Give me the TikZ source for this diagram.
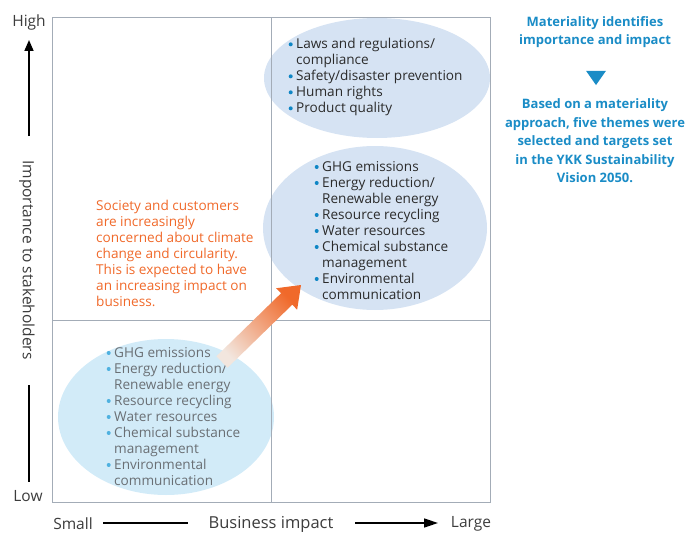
\documentclass[tikz,border=0pt]{standalone}
\usepackage{fontspec}
\setmainfont{Open Sans}
\usetikzlibrary{calc,shapes.geometric,arrows.meta}
\definecolor{frame}{HTML}{A3ACB7}
\definecolor{ellA}{HTML}{D6E3F3}
\definecolor{ellB}{HTML}{D2EBF8}
\definecolor{blu}{HTML}{1A8CC6}
\definecolor{bul}{HTML}{0F86C5}
\definecolor{bulL}{HTML}{4FB1E0}
\definecolor{org}{HTML}{F0692A}
\definecolor{orgL}{HTML}{F2E6DE}
\definecolor{txt}{HTML}{2B2B2B}
\definecolor{gtx}{HTML}{6A6F74}
\definecolor{axt}{HTML}{3C3C3C}
\newcommand\bl[1]{\makebox[8pt][l]{\hspace*{0.5pt}\tikz[baseline=-4.2pt]\fill[#1] (0,0) circle (2pt);}}
\newcommand\ind{\hspace*{8pt}}
\tikzset{
  ell/.style={ellipse, inner sep=0pt},
  list/.style={anchor=north west, inner sep=0pt, align=left, font=\fontsize{13.6}{16}\selectfont},
  axlabel/.style={text=axt, font=\fontsize{15.5}{16}\selectfont, inner sep=0pt},
  side/.style={text=blu, font=\bfseries\fontsize{13}{18.5}\selectfont, align=center, inner sep=0pt}
}
\begin{document}
\begin{tikzpicture}[x=1pt,y=-1pt]
\useasboundingbox (0,0) rectangle (687,532);
% ellipses
\node[ell, fill=ellA, minimum width=226pt, minimum height=120pt] (eTop) at (377,78) {};
\node[ell, fill=ellA, minimum width=224pt, minimum height=164pt] (eMid) at (375,228) {};
\node[ell, fill=ellB, minimum width=216pt, minimum height=156pt] (eLow) at (166,417) {};
% frame and grid
\draw[frame, line width=1pt] (52,18) rectangle (490,502);
\draw[frame, line width=1pt] (271,18) -- (271,502);
\draw[frame, line width=1pt] (52,320) -- (490,320);
% lists
\node[list, text=txt] (lTop) at (288,38) {\bl{bul}Laws and regulations/\\\ind compliance\\\bl{bul}Safety/disaster prevention\\\bl{bul}Human rights\\\bl{bul}Product quality};
\node[list, text=txt] (lMid) at (314,161) {\bl{bul}GHG emissions\\\bl{bul}Energy reduction/\\\ind Renewable energy\\\bl{bul}Resource recycling\\\bl{bul}Water resources\\\bl{bul}Chemical substance\\\ind management\\\bl{bul}Environmental\\\ind communication};
\node[list, text=gtx] (lLow) at (106,347) {\bl{bulL}GHG emissions\\\bl{bulL}Energy reduction/\\\ind Renewable energy\\\bl{bulL}Resource recycling\\\bl{bulL}Water resources\\\bl{bulL}Chemical substance\\\ind management\\\bl{bulL}Environmental\\\ind communication};
% orange note
\node[list, text=org] (note) at (96,200) {Society and customers\\are increasingly\\concerned about climate\\change and circularity.\\This is expected to have\\an increasing impact on\\business.};
% gradient arrow
\coordinate (arS) at (222,362);
\coordinate (arT) at (301,285);
\coordinate (arH) at ($(arT)!20pt!(arS)$);
\shade[top color=org, bottom color=orgL, shading angle=-46]
  ($(arS)!8pt!90:(arT)$) -- ($(arH)!8pt!-90:(arS)$) -- ($(arH)!15pt!-90:(arS)$) -- (arT)
  -- ($(arH)!15pt!90:(arS)$) -- ($(arH)!8pt!90:(arS)$) -- ($(arS)!8pt!-90:(arT)$) -- cycle;
% vertical axis
\node[axlabel] (hi) at (29,22) {High};
\node[axlabel] (lo) at (28,496) {Low};
\node[axlabel, rotate=-90] (imp) at (27,260) {Importance to stakeholders};
\coordinate (vA) at (29,136);
\coordinate (vB) at (29,40);
\draw[line width=1.6pt, -{Triangle[length=11pt,width=9pt]}] (vA) -- (vB);
\coordinate (vC) at (29,385);
\coordinate (vD) at (29,482);
\draw[line width=1.6pt] (vC) -- (vD);
% horizontal axis
\node[axlabel] (sm) at (73,524) {Small};
\node[axlabel, font=\fontsize{16.5}{16}\selectfont] (bi) at (271,524) {Business impact};
\node[axlabel] (lg) at (471,524) {Large};
\coordinate (hA) at (103,523);
\coordinate (hB) at (188,523);
\draw[line width=1.6pt] (hA) -- (hB);
\coordinate (hC) at (355,523);
\coordinate (hD) at (438,523);
\draw[line width=1.6pt, -{Triangle[length=14pt,width=9pt]}] (hC) -- (hD);
% side text
\node[side] (s1) at (595,32) {Materiality identifies\\importance and impact};
\node[fill=blu, isosceles triangle, shape border rotate=-90, isosceles triangle apex angle=70, minimum width=20pt, minimum height=14pt, inner sep=0pt] (tri) at (596,76) {};
\node[side] (s2) at (595,141) {Based on a materiality\\approach, five themes were\\selected and targets set\\in the YKK Sustainability\\Vision 2050.};
\end{tikzpicture}
\end{document}
